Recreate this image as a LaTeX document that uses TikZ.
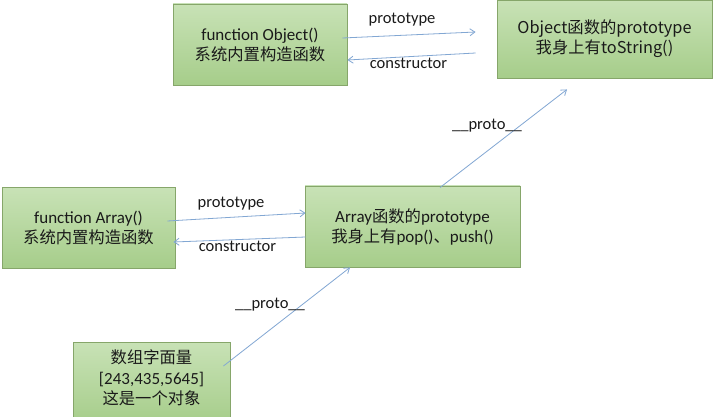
\documentclass[tikz,border=0pt]{standalone}
\usepackage{fontspec}
\setmainfont{Carlito}
\newfontfamily\cjk[Scale=0.96]{Noto Sans CJK SC}
\usetikzlibrary{arrows.meta,calc,shadings}
\definecolor{boxtop}{HTML}{C8E2B6}
\definecolor{boxbot}{HTML}{A6CD8A}
\definecolor{boxborder}{HTML}{86A66A}
\definecolor{arrowc}{HTML}{82A7D3}
\definecolor{txt}{HTML}{1A1A1A}
\tikzset{
  box/.style={draw=boxborder, line width=0.9pt, top color=boxtop, bottom color=boxbot,
    align=center, inner sep=0pt, text=txt, font=\fontsize{17}{20}\selectfont},
  lbl/.style={inner sep=0pt, text=txt, font=\fontsize{16.5}{19}\selectfont},
  link/.style={draw=arrowc, line width=0.8pt, -{Straight Barb[length=5pt,width=7pt]}}
}
\begin{document}
\begin{tikzpicture}[x=1pt,y=-1pt]
\useasboundingbox (0,0) rectangle (713,417);
\fill[white] (0,0) rectangle (713,417);
% boxes
\node[box, minimum width=174pt, minimum height=81pt] (obj) at (260,44.5)
  {function Object()\\{\cjk 系统内置构造函数}};
\node[box, minimum width=215pt, minimum height=78pt, font=\cjk\fontsize{17}{20}\selectfont] (objp) at (604.5,39)
  {Object函数的prototype\\我身上有toString()};
\node[box, minimum width=173pt, minimum height=81pt] (arr) at (88.5,228)
  {function Array()\\{\cjk 系统内置构造函数}};
\node[box, minimum width=215pt, minimum height=81pt] (arrp) at (412.5,226.5)
  {Array{\cjk 函数的}prototype\\{\cjk 我身上有}pop(){\cjk 、}push()};
\node[box, minimum width=157pt, minimum height=82pt, font=\fontsize{17}{20.5}\selectfont] (lit) at (151.5,383)
  {{\cjk 数组字面量}\\{[243,435,5645]}\\{\cjk 这是一个对象}\\[-9pt]\mbox{}};
% connectors
\draw[link] ($(obj.east)+(-5,-6.5)$) -- ($(objp.west)+(-21,-7)$);
\draw[link] ($(objp.west)+(-21,14)$) -- ($(obj.east)+(0,15.5)$);
\draw[link] ($(arr.east)+(-8,-7)$) -- ($(arrp.west)+(1,-13.5)$);
\draw[link] ($(arrp.west)+(1,10.5)$) -- ($(arr.east)+(-2,14)$);
\draw[link] ($(lit.east)+(-7,-17)$) -- ($(arrp.south)+(-62.5,0)$);
\draw[link] ($(arrp.north)+(27.5,2)$) -- ($(objp.south)+(-37.5,11)$);
% labels
\node[lbl] (l1) at (402,20) {prototype};
\node[lbl] (l2) at (408.5,63) {constructor};
\node[lbl] (l3) at (231,204) {prototype};
\node[lbl] (l4) at (237.5,246) {constructor};
\node[lbl] (l5) at (270,305) {\_\_proto\_\_};
\node[lbl] (l6) at (487,126) {\_\_proto\_\_};
\end{tikzpicture}
\end{document}
